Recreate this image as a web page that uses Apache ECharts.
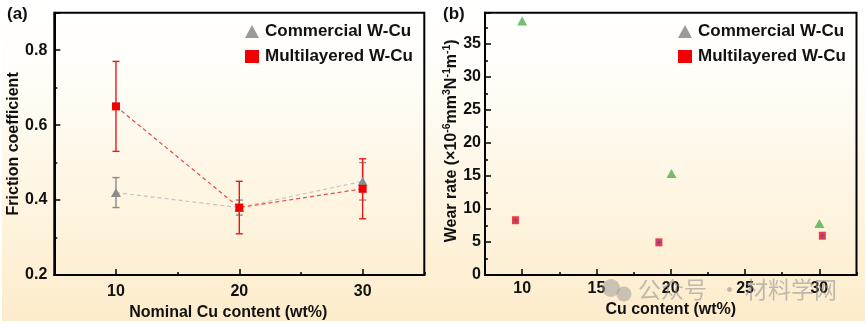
<!DOCTYPE html>
<html><head><meta charset="utf-8">
<script src="https://cdn.jsdelivr.net/npm/echarts@6/dist/echarts.min.js"></script>
<style>html,body{margin:0;padding:0;background:#fff}#c{width:865px;height:327px}</style>
</head><body><div id="c"></div>
<script>
// ---- Panel (a): friction coefficient ----
const frictionX = [10, 20, 30];
const commercialFriction = [0.42, 0.38, 0.45];
const commercialFrictionLow = [0.38, 0.36, 0.40];
const commercialFrictionHigh = [0.46, 0.40, 0.50];
const multiFriction = [0.65, 0.38, 0.43];
const multiFrictionLow = [0.53, 0.31, 0.35];
const multiFrictionHigh = [0.77, 0.45, 0.51];
const frictionXTicks = [5, 10, 15, 20, 25, 30, 35];
const frictionXLabels = [10, 20, 30];

// ---- Panel (b): wear rate ----
const commercialWearX = [10.0, 20.05, 30.0];
const commercialWear = [38.5, 15.4, 7.8];
const multiWearX = [9.55, 19.2, 30.2];
const multiWear = [8.3, 4.95, 5.95];
const wearXTicks = [7.5, 10, 12.5, 15, 17.5, 20, 22.5, 25, 27.5, 30, 32.5];
const wearXLabels = [10, 15, 20, 25, 30];

const FONT = '"Liberation Sans", Arial, sans-serif';
const zip = (a, b) => a.map((v, i) => [v, b[i]]);
const zip3 = (a, b, c) => a.map((v, i) => [v, b[i], c[i]]);

function errRender(color) {
  return function (params, api) {
    const x = api.value(0), lo = api.value(1), hi = api.value(2);
    const p1 = api.coord([x, lo]), p2 = api.coord([x, hi]);
    const cap = 3.5;
    const style = { stroke: color, lineWidth: 1.4, fill: null };
    return { type: 'group', children: [
      { type: 'line', shape: { x1: p1[0], y1: p1[1], x2: p2[0], y2: p2[1] }, style },
      { type: 'line', shape: { x1: p1[0] - cap, y1: p1[1], x2: p1[0] + cap, y2: p1[1] }, style },
      { type: 'line', shape: { x1: p2[0] - cap, y1: p2[1], x2: p2[0] + cap, y2: p2[1] }, style }
    ]};
  };
}

const axisLine = { show: true, lineStyle: { color: '#000', width: 2 } };
const labelStyle = { fontSize: 16, fontWeight: 'bold', color: '#111', fontFamily: FONT };
const nameStyle = { fontSize: 16, fontWeight: 'bold', color: '#111', fontFamily: FONT };
const minorTick = { show: true, inside: true, length: 3, lineStyle: { color: '#000', width: 1.5 } };
const majorTick = { show: true, inside: true, length: 6, lineStyle: { color: '#000', width: 1.5 } };

const legendData = [
  { name: 'Commercial W-Cu', icon: 'triangle', itemStyle: { color: '#9a9a9a', borderWidth: 0 } },
  { name: 'Multilayered W-Cu', icon: 'rect', itemStyle: { color: '#f00000', borderWidth: 0 } }
];
function makeLegend(left) {
  return { data: legendData, orient: 'vertical', left: left, top: 18, itemGap: 8,
    itemWidth: 14, itemHeight: 13, selectedMode: false,
    textStyle: { fontSize: 17, fontWeight: 'bold', color: '#111', fontFamily: FONT, padding: [0, 0, 0, 1] } };
}

const chart = echarts.init(document.getElementById('c'), null, { renderer: 'canvas' });
chart.setOption({
  animation: false,
  backgroundColor: '#ffffff',
  textStyle: { fontFamily: FONT },
  graphic: [
    { type: 'rect', z: -10, silent: true, shape: { x: 2, y: 0, width: 863, height: 321 },
      style: { fill: new echarts.graphic.LinearGradient(0, 0, 0, 1, [
        { offset: 0, color: '#ffffff' }, { offset: 0.25, color: '#fffdf7' },
        { offset: 1, color: '#fdeccb' }]) } },
    { type: 'text', left: 7, top: 6, style: { text: '(a)', font: 'bold 17px ' + FONT, fill: '#111' } },
    { type: 'text', left: 443, top: 6, style: { text: '(b)', font: 'bold 17px ' + FONT, fill: '#111' } },
    { type: 'circle', z: 50, shape: { cx: 611, cy: 288, r: 9 }, style: { fill: 'rgba(150,150,150,0.5)' } },
    { type: 'circle', z: 50, shape: { cx: 624, cy: 294, r: 7.5 }, style: { fill: 'rgba(150,150,150,0.5)' } },
    { type: 'text', z: 50, left: 638, top: 278, style: { text: '公众号', font: '23px "Noto Sans CJK SC"', fill: 'rgba(140,140,140,0.55)' } },
    { type: 'text', z: 50, left: 718, top: 278, style: { text: '·', font: '23px "Noto Sans CJK SC"', fill: 'rgba(140,140,140,0.55)' } },
    { type: 'text', z: 50, left: 745, top: 278, style: { text: '材料学网', font: '23px "Noto Sans CJK SC"', fill: 'rgba(140,140,140,0.55)' } }
  ],
  legend: [makeLegend(240), makeLegend(673)],
  grid: [
    { left: 54.3, top: 12.7, width: 370, height: 262.3, show: true, borderColor: '#000', borderWidth: 2, backgroundColor: 'transparent' },
    { left: 485, top: 12.7, width: 371.5, height: 262.3, show: true, borderColor: '#000', borderWidth: 2, backgroundColor: 'transparent' }
  ],
  xAxis: [
    { type: 'value', gridIndex: 0, position: 'bottom', min: 5, max: 35, interval: 5,
      axisLine, axisTick: minorTick, axisLabel: { show: false }, splitLine: { show: false } },
    { type: 'category', gridIndex: 0, position: 'bottom', data: frictionXTicks, boundaryGap: false,
      axisLine: { show: false },
      axisTick: Object.assign({}, majorTick, { interval: (i, v) => frictionXLabels.includes(Number(v)) }),
      axisLabel: Object.assign({}, labelStyle, { margin: 9, interval: (i, v) => frictionXLabels.includes(Number(v)) }),
      splitLine: { show: false },
      name: 'Nominal Cu content (wt%)', nameLocation: 'middle', nameGap: 28,
      nameTextStyle: Object.assign({}, nameStyle, { padding: [0, 22, 0, 0] }) },
    { type: 'value', gridIndex: 1, position: 'bottom', min: 7.5, max: 32.5, interval: 2.5,
      axisLine, axisTick: minorTick, axisLabel: { show: false }, splitLine: { show: false } },
    { type: 'category', gridIndex: 1, position: 'bottom', data: wearXTicks, boundaryGap: false,
      axisLine: { show: false },
      axisTick: Object.assign({}, majorTick, { interval: (i, v) => wearXLabels.includes(Number(v)) }),
      axisLabel: Object.assign({}, labelStyle, { margin: 6, interval: (i, v) => wearXLabels.includes(Number(v)) }),
      splitLine: { show: false },
      name: 'Cu content (wt%)', nameLocation: 'middle', nameGap: 24, nameTextStyle: nameStyle }
  ],
  yAxis: [
    { type: 'value', gridIndex: 0, position: 'left', min: 0.2, max: 0.9, interval: 0.1,
      axisLine, axisTick: minorTick, axisLabel: { show: false }, splitLine: { show: false } },
    { type: 'value', gridIndex: 0, position: 'left', min: 0.2, max: 0.9, interval: 0.2,
      axisLine, axisTick: majorTick, splitLine: { show: false },
      axisLabel: Object.assign({}, labelStyle, { margin: 7,
        formatter: v => (Math.abs(v * 5 - Math.round(v * 5)) < 1e-6 && v < 0.85) ? v.toFixed(1) : '' }),
      name: 'Friction coefficient', nameLocation: 'middle', nameGap: 32, nameTextStyle: nameStyle },
    { type: 'value', gridIndex: 1, position: 'left', min: 0, max: 39.75, interval: 2.5,
      axisLine, axisTick: minorTick, axisLabel: { show: false }, splitLine: { show: false } },
    { type: 'value', gridIndex: 1, position: 'left', min: 0, max: 39.75, interval: 5,
      axisLine, axisTick: majorTick, splitLine: { show: false },
      axisLabel: Object.assign({}, labelStyle, { margin: 4,
        formatter: v => (v % 5 === 0 && v < 38) ? String(v) : '' }),
      name: '{t|Wear rate (×10}{s|-6}{t|mm}{s|3}{t|N}{s|-1}{t|m}{s|-1}{t|)}',
      nameLocation: 'middle', nameGap: 21,
      nameTextStyle: Object.assign({}, nameStyle, { padding: [0, 0, 0, 6], rich: {
        t: { fontSize: 16, fontWeight: 'bold', color: '#111', fontFamily: FONT, lineHeight: 18, verticalAlign: 'bottom' },
        s: { fontSize: 10.5, fontWeight: 'bold', color: '#111', fontFamily: FONT, lineHeight: 18, verticalAlign: 'top' } } }) }
  ],
  series: [
    { type: 'custom', name: 'errC', xAxisIndex: 0, yAxisIndex: 0, z: 1, renderItem: errRender('#8a8a8a'),
      data: zip3(frictionX, commercialFrictionLow, commercialFrictionHigh) },
    { type: 'custom', name: 'errM', xAxisIndex: 0, yAxisIndex: 0, z: 1, renderItem: errRender('#e81818'),
      data: zip3(frictionX, multiFrictionLow, multiFrictionHigh) },
    { type: 'line', name: 'Commercial W-Cu', xAxisIndex: 0, yAxisIndex: 0, z: 2,
      data: zip(frictionX, commercialFriction), symbol: 'triangle', symbolSize: [10, 9],
      itemStyle: { color: '#8c8c8c' }, lineStyle: { color: '#c4c4c4', width: 1.2, type: [4, 3] } },
    { type: 'line', name: 'Multilayered W-Cu', xAxisIndex: 0, yAxisIndex: 0, z: 3,
      data: zip(frictionX, multiFriction), symbol: 'rect', symbolSize: 8,
      itemStyle: { color: '#f00000' }, lineStyle: { color: '#e84848', width: 1.2, type: [4, 3] } },
    { type: 'scatter', name: 'Commercial W-Cu', xAxisIndex: 2, yAxisIndex: 2,
      data: zip(commercialWearX, commercialWear), symbol: 'triangle', symbolSize: [10, 9],
      itemStyle: { color: '#4caf4f' } },
    { type: 'scatter', name: 'Multilayered W-Cu', xAxisIndex: 2, yAxisIndex: 2,
      data: zip(multiWearX, multiWear), symbol: 'rect', symbolSize: [7, 8],
      itemStyle: { color: '#e8101c' } },
    { type: 'scatter', name: 'markM', xAxisIndex: 2, yAxisIndex: 2, z: 3,
      data: zip(multiWearX, multiWear), symbol: 'path://M2,0H3V2H5V3H3V5H2V3H0V2H2Z', symbolSize: 5,
      itemStyle: { color: '#5a3cc8' } }
  ]
});
</script></body></html>
